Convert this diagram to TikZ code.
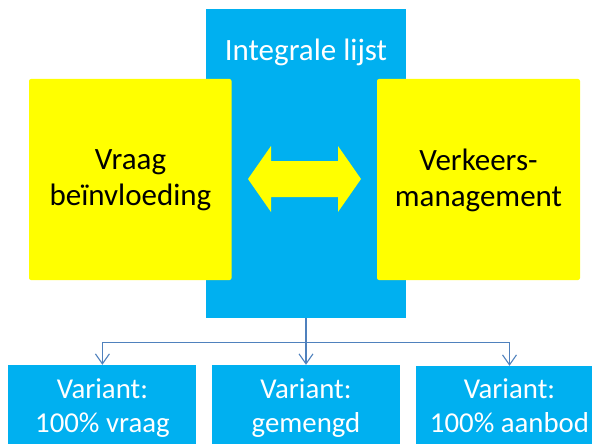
\documentclass[tikz,border=0pt]{standalone}
\usepackage{fontspec}
\setmainfont{Carlito}
\usetikzlibrary{arrows.meta,calc}
\definecolor{boxblue}{HTML}{00B0F0}
\definecolor{boxyellow}{HTML}{FFFF00}
\definecolor{linkblue}{HTML}{4F81BD}
\tikzset{
  bluebox/.style={fill=boxblue, draw=none, inner sep=0pt},
  yellowbox/.style={fill=boxyellow, draw=none, inner sep=0pt, rounded corners=2pt},
  bigtext/.style={font=\fontsize{31pt}{35.5pt}\selectfont, align=center, inner sep=0pt, anchor=base},
  smalltext/.style={font=\fontsize{28.8pt}{34pt}\selectfont, align=center, inner sep=0pt, anchor=base, text=white},
  link/.style={draw=linkblue, line width=1.1pt},
  linkarrow/.style={link, -{Straight Barb[length=10pt,width=14pt,line width=1.1pt]}}
}
\begin{document}
\begin{tikzpicture}[x=1pt,y=-1pt]
  \useasboundingbox (0,0) rectangle (597,444);

  % central column
  \node[bluebox, minimum width=200pt, minimum height=309pt] (list) at (306,163.5) {};
  \node[bigtext, text=white] (listlabel) at (306,61) {Integrale lijst};

  % the two yellow blocks
  \node[yellowbox, minimum width=202.5pt, minimum height=201pt] (demand) at (130.25,179.5) {};
  \node[yellowbox, minimum width=203pt, minimum height=201pt] (traffic) at (478.5,179.5) {};
  \node[bigtext] (demandlabel) at (130.5,205) {Vraag\\beïnvloeding};
  \node[bigtext] (trafficlabel) at (478.5,206) {Verkeers-\\management};

  % double-headed arrow between them
  \coordinate (mid) at (304.5,179);
  \fill[boxyellow] ($(mid)+(-56.5,0)$) -- ++(23,-33) -- ++(0,15) -- ++(67,0) -- ++(0,-15)
    -- ($(mid)+(56.5,0)$) -- ++(-23,33) -- ++(0,-15) -- ++(-67,0) -- ++(0,15) -- cycle;

  % variant boxes
  \node[bluebox, minimum width=188pt, minimum height=88pt] (v1) at (102,409) {};
  \node[bluebox, minimum width=188pt, minimum height=88pt] (v2) at (306,409) {};
  \node[bluebox, minimum width=176pt, minimum height=86pt] (v3) at (504,409) {};
  \node[smalltext] (v1t) at (102.4,432) {Variant:\\100\% vraag};
  \node[smalltext] (v2t) at (306,432) {Variant:\\gemengd};
  \node[smalltext] (v3t) at (509.5,432) {Variant:\\100\% aanbod};

  % tree connector
  \coordinate (fork) at ($(list.south)+(0,24)$);
  \draw[link] (list.south) -- (fork);
  \draw[linkarrow] (fork) -| (v1t |- v1.north);
  \draw[linkarrow] (fork) -- (v2.north);
  \draw[linkarrow] (fork) -| (v3t |- v3.north);
\end{tikzpicture}
\end{document}
